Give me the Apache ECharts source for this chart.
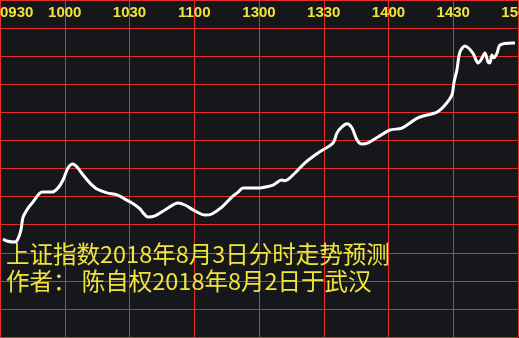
<!DOCTYPE html>
<html>
<head>
<meta charset="utf-8">
<script src="https://cdn.jsdelivr.net/npm/echarts@6/dist/echarts.min.js"></script>
<style>
html,body{margin:0;padding:0;background:#16171a;}
#chart{width:519px;height:338px;}
</style>
</head>
<body>
<div id="chart"></div>
<script>
// Minutes since 09:30 (trading minutes, 0..240)
var minutes = [1.4, 3.2, 6.9, 8.3, 9.7, 10.7, 13.0, 15.3, 19.5, 24.1, 26.9, 29.2, 31.5, 33.8, 35.7, 38.5, 41.7, 44.9, 49.6, 54.2, 57.9, 61.2, 64.9, 66.3, 68.6, 71.8, 76.4, 82.5, 85.7, 90.3, 95.0, 98.2, 102.9, 107.5, 110.3, 112.6, 120.5, 122.8, 126.5, 130.6, 132.0, 136.7, 141.3, 147.3, 154.3, 156.1, 158.4, 160.8, 163.1, 165.4, 167.7, 170.5, 175.1, 180.7, 186.2, 193.6, 202.5, 206.2, 209.4, 210.3, 211.7, 213.1, 215.4, 219.1, 221.5, 222.8, 224.7, 226.1, 227.0, 227.9, 228.9, 230.3, 231.7, 237.7, 238.6];
// Predicted level (chart units, 10 per grid row)
var levels = [34.9, 34.2, 33.8, 34.9, 38.1, 42.7, 45.9, 48.1, 51.6, 51.6, 53.1, 55.9, 60.2, 61.6, 60.5, 57.7, 54.8, 52.7, 51.3, 50.6, 49.1, 47.7, 45.6, 44.2, 42.7, 43.1, 45.2, 47.7, 47.0, 44.9, 43.4, 43.8, 46.3, 49.9, 51.6, 53.1, 53.1, 53.4, 54.1, 55.9, 55.6, 58.4, 62.0, 65.5, 69.1, 72.6, 74.8, 75.9, 74.4, 70.2, 68.7, 69.1, 71.2, 73.7, 74.4, 78.0, 80.1, 82.6, 86.2, 90.5, 95.1, 101.5, 103.6, 101.1, 97.6, 98.6, 101.1, 97.9, 97.6, 100.4, 99.4, 101.1, 104.0, 104.7, 104.7, 105.1];
var tickLabels = ['0930', '1000', '1030', '1100', '1300', '1330', '1400', '1430', '1500'];
var titleLines = ['上证指数2018年8月3日分时走势预测', '作者： 陈自权2018年8月2日于武汉'];

var data = minutes.map(function (m, i) { return [m, levels[i]]; });
var chart = echarts.init(document.getElementById('chart'), null, {renderer: 'canvas'});
var red = '#e52b2b';
var yellow = '#f0e43c';
chart.setOption({
  backgroundColor: '#16171a',
  animation: false,
  title: {
    text: titleLines.join('\n'),
    left: 6,
    top: 241,
    padding: 0,
    textStyle: {
      color: yellow,
      fontSize: 23.5,
      lineHeight: 27,
      fontWeight: 'normal',
      fontFamily: '"Noto Sans CJK SC", sans-serif'
    }
  },
  grid: {left: 0, right: 1, top: 0, bottom: 1, containLabel: false, outerBoundsMode: 'none'},
  xAxis: {
    type: 'value',
    position: 'top',
    min: 0,
    max: 240,
    interval: 30,
    axisLine: {show: false},
    axisTick: {show: false},
    splitLine: {show: true, lineStyle: {color: red, width: 1}},
    axisLabel: {
      inside: true,
      margin: 5,
      showMinLabel: true,
      showMaxLabel: true,
      hideOverlap: false,
      align: 'center',
      alignMinLabel: 'left',
      color: yellow,
      fontSize: 15,
      fontWeight: 'bold',
      fontFamily: '"Liberation Sans", sans-serif',
      formatter: function (v) { return tickLabels[Math.round(v / 30)]; }
    }
  },
  yAxis: {
    type: 'value',
    min: 0,
    max: 120,
    interval: 10,
    axisLine: {show: false},
    axisTick: {show: false},
    axisLabel: {show: false},
    splitLine: {show: true, lineStyle: {color: red, width: 1}}
  },
  series: [{
    type: 'line',
    data: data,
    showSymbol: false,
    smooth: 0.3,
    lineStyle: {color: '#ffffff', width: 3},
    z: 5
  }]
});
</script>
</body>
</html>
